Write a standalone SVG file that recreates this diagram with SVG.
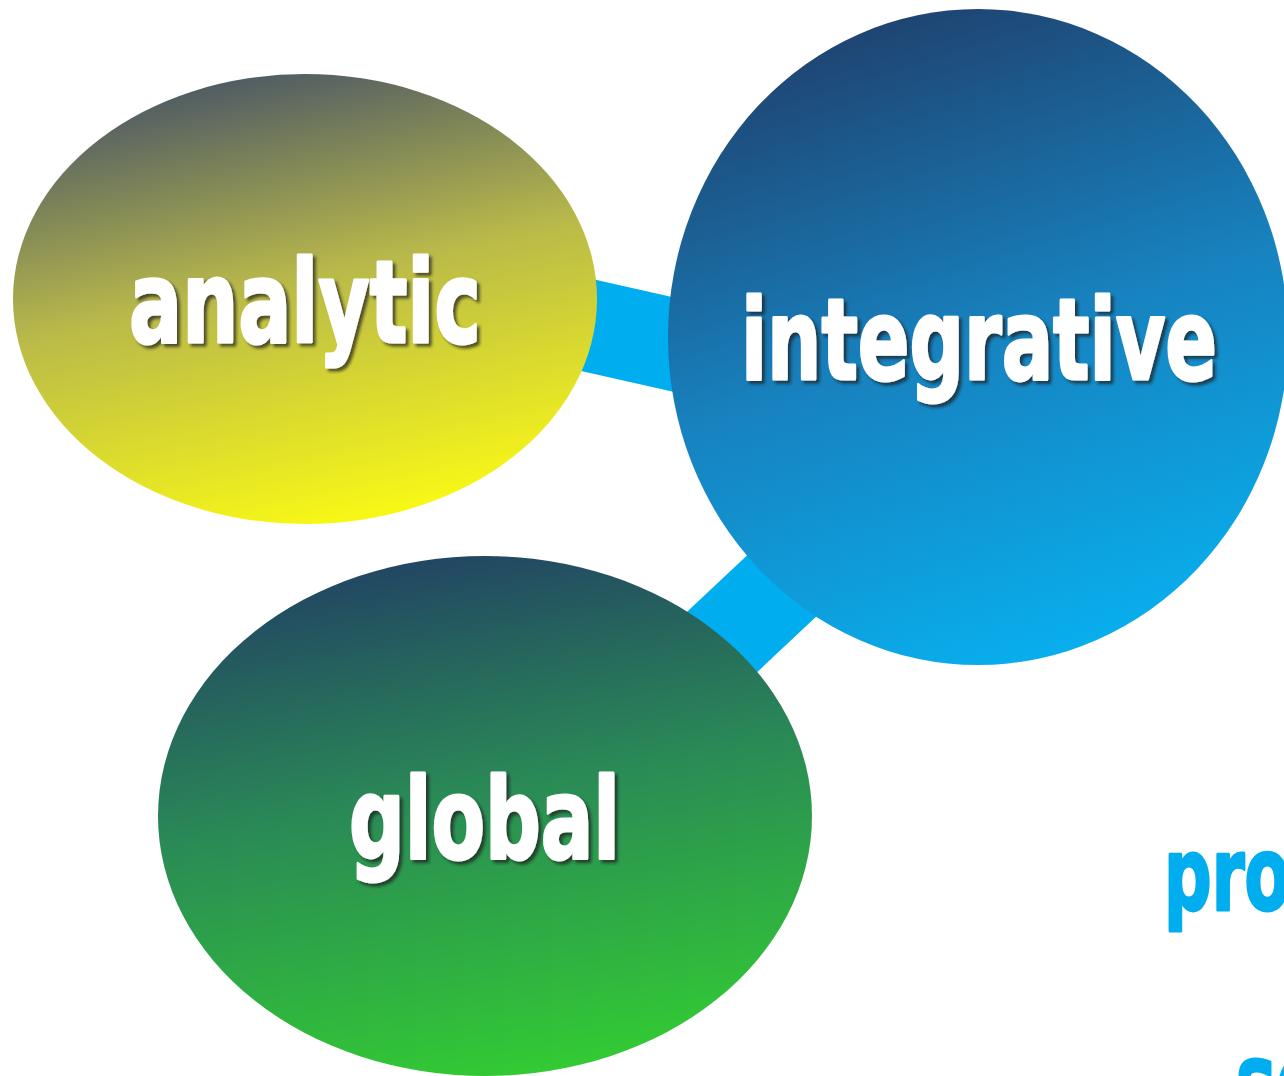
<svg xmlns="http://www.w3.org/2000/svg" width="1284" height="1076" viewBox="0 0 1284 1076">
  <defs>
    <linearGradient id="gAnalytic" x1="0.38" y1="0" x2="0.66" y2="1">
      <stop offset="0" stop-color="#4e5a64"/>
      <stop offset="0.45" stop-color="#b9b94a"/>
      <stop offset="1" stop-color="#fbfb14"/>
    </linearGradient>
    <linearGradient id="gIntegrative" x1="0.35" y1="0" x2="0.65" y2="1">
      <stop offset="0" stop-color="#1f426f"/>
      <stop offset="0.5" stop-color="#1782bf"/>
      <stop offset="1" stop-color="#08b0ef"/>
    </linearGradient>
    <linearGradient id="gGlobal" x1="0.4" y1="0" x2="0.62" y2="1">
      <stop offset="0" stop-color="#224563"/>
      <stop offset="0.45" stop-color="#2a8a56"/>
      <stop offset="1" stop-color="#33cc33"/>
    </linearGradient>
    <filter id="shadow" x="-10%" y="-20%" width="120%" height="140%">
      <feDropShadow dx="3" dy="3" stdDeviation="1.8" flood-color="#1a1a1a" flood-opacity="0.7"/>
    </filter>
  </defs>
  <style>
    .link { stroke: #00aeef; stroke-width: 92; fill: none; }
    .label { font-family: "DejaVu Sans", "Liberation Sans", sans-serif; font-weight: bold; fill: #ffffff; stroke: #ffffff; stroke-width: 3; stroke-linejoin: round; filter: url(#shadow); }
    .side { font-family: "DejaVu Sans", "Liberation Sans", sans-serif; font-weight: bold; fill: #00aeef; stroke: #00aeef; stroke-width: 3; stroke-linejoin: round; }
  </style>

  <!-- connectors -->
  <g id="connectors">
    <line class="link" x1="520" y1="310" x2="760" y2="364"/>
    <line class="link" x1="640" y1="719" x2="820" y2="550"/>
  </g>

  <!-- nodes -->
  <g id="node-analytic">
    <ellipse cx="305" cy="299" rx="292" ry="225" fill="url(#gAnalytic)"/>
    <text class="label" x="129" y="342" font-size="114" textLength="352" lengthAdjust="spacingAndGlyphs">analytic</text>
  </g>
  <g id="node-integrative">
    <ellipse cx="978" cy="337" rx="310" ry="328" fill="url(#gIntegrative)"/>
    <text class="label" x="741" y="379" font-size="112" textLength="476" lengthAdjust="spacingAndGlyphs">integrative</text>
  </g>
  <g id="node-global">
    <ellipse cx="485" cy="816" rx="327" ry="260" fill="url(#gGlobal)"/>
    <text class="label" x="349" y="858" font-size="112" textLength="271" lengthAdjust="spacingAndGlyphs">global</text>
  </g>

  <!-- side labels running off the right edge -->
  <g id="label-process">
    <text class="side" x="1164" y="910" font-size="102" textLength="290" lengthAdjust="spacingAndGlyphs">process</text>
  </g>
  <g id="label-sequential">
    <text class="side" x="1236" y="1117" font-size="104" textLength="400" lengthAdjust="spacingAndGlyphs">sequential</text>
  </g>
</svg>
